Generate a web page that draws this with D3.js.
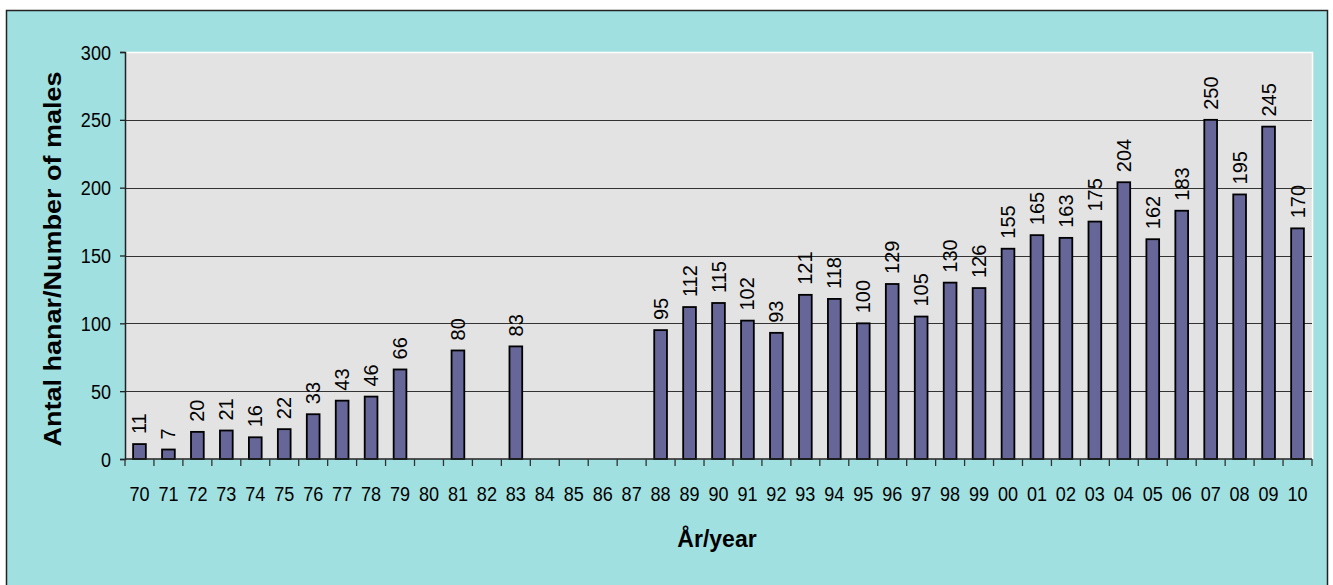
<!doctype html>
<meta charset="utf-8">
<style>
  body { margin: 0; background: #fff; }
  text { font-family: Arial, "Liberation Sans", sans-serif; fill: #000; }
</style>
<body>
<script src="https://d3js.org/d3.v7.min.js"></script>
<script>

// years on the x axis and counts of males (null = no count)
let years = ["70","71","72","73","74","75","76","77","78","79","80","81","82","83","84","85","86","87","88","89",
             "90","91","92","93","94","95","96","97","98","99","00","01","02","03","04","05","06","07","08","09","10"];
let males = [11,7,20,21,16,22,33,43,46,66,null,80,null,83,null,null,null,null,95,112,
             115,102,93,121,118,100,129,105,130,126,155,165,163,175,204,162,183,250,195,245,170];
let yTicks = [0,50,100,150,200,250,300];

let width = 1333, height = 585;
let plot = {left: 125, right: 1312, top: 52, bottom: 459};

let svg = d3.select('body').append('svg')
    .attr('width', width)
    .attr('height', height);

// outer chart area (bottom edge falls outside the picture)
svg.append('rect')
    .attr('x', 6.5).attr('y', 10.5)
    .attr('width', 1321).attr('height', 590)
    .attr('fill', '#a0e0e0')
    .attr('stroke', '#222').attr('stroke-width', 1.5);

// plot area
svg.append('rect')
    .attr('x', plot.left).attr('y', plot.top)
    .attr('width', plot.right - plot.left).attr('height', plot.bottom - plot.top)
    .attr('fill', '#e3e3e3');
svg.append('path')
    .attr('d', `M${plot.left},${plot.top + 0.5}H${plot.right + 0.5}V${plot.bottom}`)
    .attr('fill', 'none').attr('stroke', '#fff').attr('stroke-width', 1.5);

let x = d3.scaleBand()
    .domain(years)
    .range([plot.left, plot.right])
    .paddingInner(0.56).paddingOuter(0.28);

let y = d3.scaleLinear()
    .domain([0, 300])
    .range([plot.bottom, plot.top]);

// gridlines
svg.append('g')
  .selectAll('line')
  .data(yTicks.filter(d => d > 0 && d < 300))
  .enter().append('line')
    .attr('x1', plot.left).attr('x2', plot.right)
    .attr('y1', d => Math.round(y(d)) + 0.5).attr('y2', d => Math.round(y(d)) + 0.5)
    .attr('stroke', '#333').attr('stroke-width', 1.2);

// bars
let data = years.map((yr, i) => ({year: yr, v: males[i]})).filter(d => d.v !== null);

svg.append('g')
  .selectAll('rect')
  .data(data)
  .enter().append('rect')
    .attr('x', d => x(d.year))
    .attr('y', d => y(d.v))
    .attr('width', x.bandwidth())
    .attr('height', d => y(0) - y(d.v))
    .attr('fill', '#666699')
    .attr('stroke', '#000').attr('stroke-width', 1.8);

// value labels, rotated
svg.append('g')
  .selectAll('text')
  .data(data)
  .enter().append('text')
    .attr('transform', d => `translate(${x(d.year) + x.bandwidth() / 2 + 7},${y(d.v) - 10}) rotate(-90)`)
    .attr('font-size', 20)
    .text(d => d.v);

// y axis
let yAxis = svg.append('g')
    .attr('transform', `translate(${plot.left},0)`)
    .call(d3.axisLeft(y).tickValues(yTicks).tickSize(5).tickPadding(9));
yAxis.select('.domain').attr('stroke', '#222').attr('stroke-width', 1.5);
yAxis.selectAll('.tick line').attr('stroke', '#222').attr('stroke-width', 1.3);
yAxis.selectAll('.tick text').remove();
yAxis.selectAll('.tick').append('text')
    .attr('transform', 'translate(-14,7) scale(0.86,1)')
    .attr('text-anchor', 'end')
    .attr('font-size', 21)
    .text(d => d);

// x axis: ticks between categories
let bound = d3.range(years.length + 1).map(i => plot.left + i * (plot.right - plot.left) / years.length);
svg.append('line')
    .attr('x1', plot.left).attr('x2', plot.right)
    .attr('y1', plot.bottom).attr('y2', plot.bottom)
    .attr('stroke', '#222').attr('stroke-width', 1.5);
svg.append('g')
  .selectAll('line')
  .data(bound)
  .enter().append('line')
    .attr('x1', d => d).attr('x2', d => d)
    .attr('y1', plot.bottom).attr('y2', plot.bottom + 7)
    .attr('stroke', '#333').attr('stroke-width', 1.3);
svg.append('g')
  .selectAll('text')
  .data(years)
  .enter().append('text')
    .attr('transform', d => `translate(${x(d) + x.bandwidth() / 2},501) scale(0.86,1)`)
    .attr('text-anchor', 'middle')
    .attr('font-size', 21)
    .text(d => d);

// axis titles
svg.append('text')
    .attr('x', 717).attr('y', 547)
    .attr('text-anchor', 'middle')
    .attr('font-size', 23).attr('font-weight', 'bold')
    .text('År/year');

svg.append('text')
    .attr('transform', 'translate(61,259) rotate(-90)')
    .attr('text-anchor', 'middle')
    .attr('font-size', 24).attr('font-weight', 'bold')
    .attr('textLength', 375).attr('lengthAdjust', 'spacingAndGlyphs')
    .text('Antal hanar/Number of males');

</script>
